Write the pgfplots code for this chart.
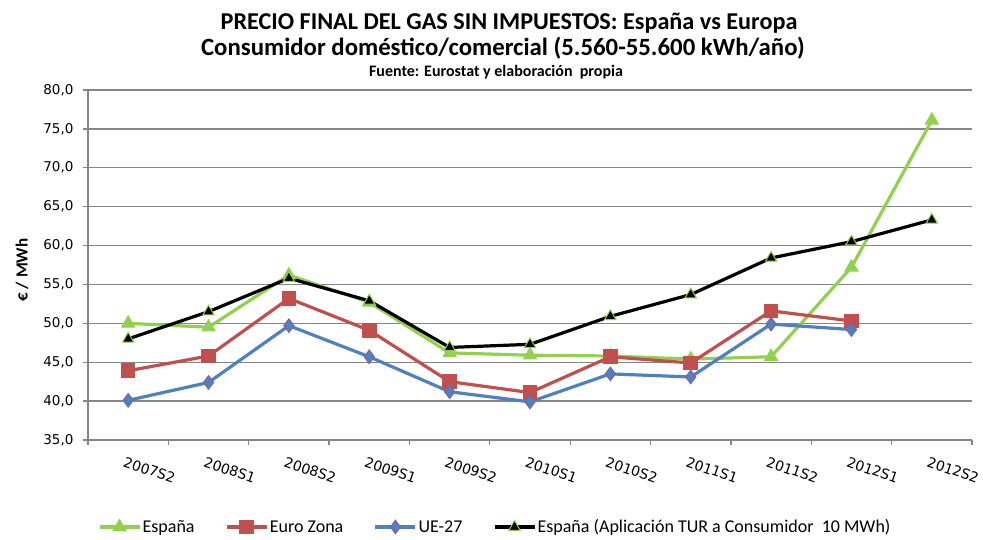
\documentclass[border=0pt]{standalone}
\usepackage{fontspec}
\setmainfont{Carlito}
\newfontfamily\tickfont{DejaVu Sans}
\usepackage{pgfplots}
\pgfplotsset{compat=1.18}
\definecolor{cgreen}{RGB}{146,208,80}
\definecolor{cred}{RGB}{192,80,77}
\definecolor{cblue}{RGB}{79,129,189}
\definecolor{cpurple}{RGB}{128,100,162}
\definecolor{cgrid}{RGB}{134,134,134}
\begin{document}
\begin{tikzpicture}[x=1pt,y=1pt]
\path[use as bounding box] (0,0) rectangle (983,540);
\node[anchor=base, font=\bfseries\fontsize{24.2}{28}\selectfont, inner sep=0pt] at (509,510) {PRECIO FINAL DEL GAS SIN IMPUESTOS: España vs Europa};
\node[anchor=base, font=\bfseries\fontsize{24.8}{28}\selectfont, inner sep=0pt] at (503,484) {Consumidor doméstico/comercial (5.560-55.600 kWh/año)};
\node[anchor=base, font=\bfseries\fontsize{16}{19}\selectfont, inner sep=0pt] at (496,463) {Fuente: Eurostat y elaboración\ \ propia};
\node[rotate=90, font=\bfseries\fontsize{17}{20}\selectfont, inner sep=0pt] at (22,270) {€ / MWh};
\begin{axis}[
  at={(88pt,100pt)}, anchor=south west,
  scale only axis, width=884pt, height=350pt,
  xmin=-0.5, xmax=10.5, ymin=35, ymax=80,
  xtick={0,...,10},
  xticklabels={2007S2,2008S1,2008S2,2009S1,2009S2,2010S1,2010S2,2011S1,2011S2,2012S1,2012S2},
  minor xtick={-0.5,0.5,...,10.5},
  ytick={35,40,...,80},
  axis x line*=bottom, axis y line*=left,
  axis line style={cgrid, line width=1.8pt},
  ymajorgrids, grid style={cgrid, line width=1.3pt},
  tick align=outside,
  major tick length=5pt, minor tick length=5pt,
  major x tick style={draw=none},
  minor x tick style={cgrid, line width=1.3pt},
  y tick style={cgrid, line width=1.3pt},
  xticklabel style={font=\tickfont\fontsize{14}{16}\selectfont, rotate=-19, anchor=north west, xshift=-2pt, yshift=-8pt},
  yticklabel style={font=\tickfont\fontsize{13.5}{16}\selectfont, xshift=-6pt,
    /pgf/number format/fixed, /pgf/number format/fixed zerofill,
    /pgf/number format/precision=1, /pgf/number format/use comma,
    /pgf/number format/assume math mode=true},
  legend columns=4,
  legend style={at={(axis description cs:0.011,-0.2486)}, anchor=west, draw=none, fill=none, inner sep=0pt,
    font=\fontsize{18}{21}\selectfont, nodes={inner sep=1.5pt},
    /tikz/every even column/.append style={column sep=29pt}},
  legend image code/.code={\draw[mark repeat=2,mark phase=2,#1] plot coordinates {(0pt,0pt)(20pt,0pt)(40pt,0pt)};},
  every axis plot/.append style={line width=3.2pt},
]
\addplot[cgreen, mark=triangle*, mark size=7.5pt, mark options={solid, fill=cgreen, draw=cgreen, line width=1pt}]
 coordinates {(0,50.0)(1,49.5)(2,56.2)(3,52.7)(4,46.2)(5,45.9)(6,45.8)(7,45.4)(8,45.7)(9,57.2)(10,76.1)};
\addlegendentry{España}
\addplot[cred, mark=square*, mark size=6.8pt, mark options={solid, fill=cred, draw=cred, line width=1pt}]
 coordinates {(0,43.9)(1,45.8)(2,53.2)(3,49.1)(4,42.5)(5,41.1)(6,45.7)(7,44.9)(8,51.6)(9,50.3)};
\addlegendentry{Euro Zona}
\addplot[cblue, mark=diamond*, mark size=6.8pt, mark options={solid, fill=cblue, draw=cpurple, line width=1pt}]
 coordinates {(0,40.1)(1,42.4)(2,49.7)(3,45.7)(4,41.2)(5,39.9)(6,43.5)(7,43.1)(8,49.9)(9,49.2)};
\addlegendentry{UE-27}
\addplot[black, mark=triangle*, mark size=6.5pt, mark options={solid, fill=black, draw=cgreen, line width=1pt}]
 coordinates {(0,48.0)(1,51.5)(2,55.8)(3,52.9)(4,46.9)(5,47.3)(6,50.9)(7,53.7)(8,58.4)(9,60.5)(10,63.3)};
\addlegendentry{España (Aplicación TUR a Consumidor\ \ 10 MWh)}
\end{axis}
\end{tikzpicture}
\end{document}
